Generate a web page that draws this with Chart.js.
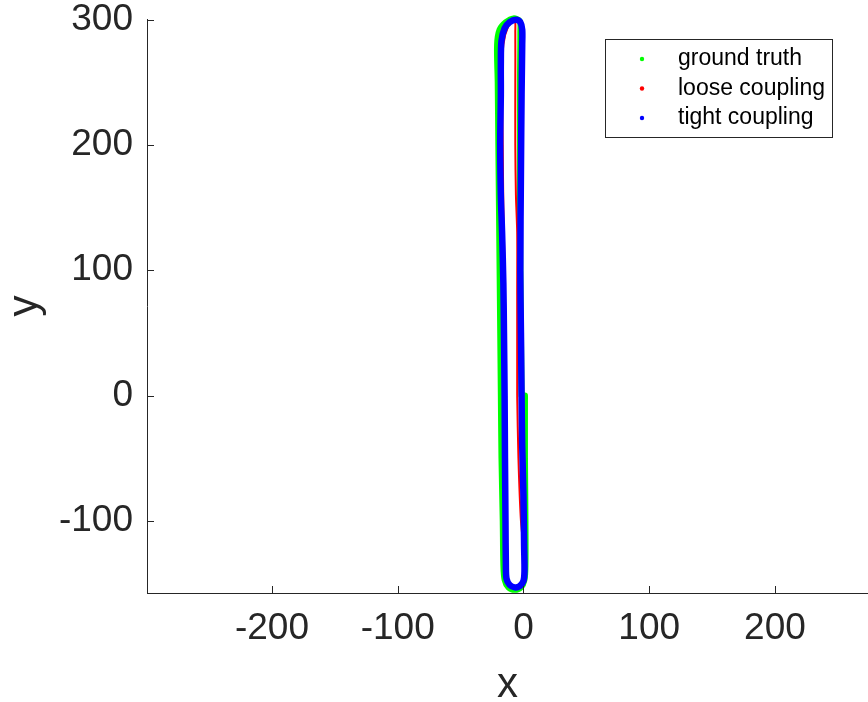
<!DOCTYPE html>
<html>
<head>
<meta charset="utf-8">
<script src="https://cdn.jsdelivr.net/npm/chart.js@4.4.1/dist/chart.umd.min.js"></script>
<style>
  html, body { margin: 0; padding: 0; background: #fff; }
  #wrap { width: 868px; height: 702px; position: relative; }
</style>
</head>
<body>
<div id="wrap"><canvas id="grafico"></canvas></div>
<script>
// Tick values
const xTicks = [-200, -100, 0, 100, 200];
const yTicks = [-100, 0, 100, 200, 300];

// ground truth
const gtX = [1.2, 1.2, 1.6, 1.6, 0.8, -2, -7, -12, -15, -16, -16.5, -17.5, -18, -18.5, -19, -19.5, -20, -20.5, -21, -19, -14, -8, -3, -2.5, -2.8, -2.8, -2.8, -2.5, -2, -1.5];
const gtY = [0, -50, -100, -135, -147, -153, -155, -153, -147, -135, -100, -50, 0, 50, 100, 150, 200, 250, 280, 292, 298, 301, 299, 290, 250, 200, 150, 100, 50, 0];

// loose coupling
const looseX = [-5, -4, -2, 1, 2, 0, -6, -11, -13.5, -13.5, -13.5, -14, -14.5, -15, -16, -16.5, -17, -16, -12, -7, -6.5, -6.5, -6.5, -6, -5, -5, -5, -5];
const looseY = [0, -50, -100, -130, -145, -151, -154, -152, -145, -100, -50, 0, 50, 100, 150, 200, 250, 280, 295, 300, 290, 250, 200, 160, 130, 80, 40, 0];

// tight coupling
const tightX = [-1.5, -1, 0, 0.5, 0.8, 0, -3, -7, -11, -13.5, -14, -14.3, -14.7, -15, -15.5, -16, -17, -18, -18.5, -18, -18, -17.5, -15, -11, -6, -2.5, -1, -1, -1.5, -2, -2.5, -2, -1.5];
const tightY = [0, -40, -80, -120, -140, -148, -152, -153, -151, -146, -135, -100, -50, 0, 50, 90, 130, 160, 200, 240, 265, 283, 293, 298, 300, 298, 292, 280, 240, 180, 100, 50, 0];

function puntos(xs, ys) {
    return xs.map((x, i) => ({ x: x, y: ys[i] }));
}

const colorEje = '#262626';
const fuente = "'Liberation Sans', Arial, Helvetica, sans-serif";

// Marcas de ticks hacia dentro y leyenda con borde (estilo MATLAB)
const pluginMatlab = {
    id: 'pluginMatlab',
    afterDraw(chart) {
        const ctx = chart.ctx;
        const area = chart.chartArea;
        const sx = chart.scales.x;
        const sy = chart.scales.y;
        ctx.save();
        ctx.strokeStyle = colorEje;
        ctx.lineWidth = 1;
        ctx.beginPath();
        sx.ticks.forEach(t => {
            const px = Math.round(sx.getPixelForValue(t.value)) + 0.5;
            ctx.moveTo(px, area.bottom);
            ctx.lineTo(px, area.bottom - 7);
        });
        sy.ticks.forEach(t => {
            const py = Math.round(sy.getPixelForValue(t.value)) + 0.5;
            ctx.moveTo(area.left, py);
            ctx.lineTo(area.left + 7, py);
        });
        ctx.stroke();

        // leyenda
        const lx = area.right - 263;
        const ly = area.top + 20;
        const lw = 227;
        const lh = 98;
        ctx.fillStyle = '#fff';
        ctx.fillRect(lx, ly, lw, lh);
        ctx.strokeStyle = colorEje;
        ctx.strokeRect(lx + 0.5, ly + 0.5, lw, lh);
        ctx.font = '23px ' + fuente;
        ctx.textBaseline = 'middle';
        ctx.textAlign = 'left';
        chart.data.datasets.forEach((ds, i) => {
            const cy = ly + 20 + i * 29.5;
            ctx.fillStyle = ds.borderColor;
            ctx.beginPath();
            ctx.arc(lx + 37, cy, 2.2, 0, Math.PI * 2);
            ctx.fill();
            ctx.fillStyle = '#000';
            ctx.fillText(ds.label, lx + 73, cy);
        });
        ctx.restore();
    }
};

const ctx = document.getElementById('grafico').getContext('2d');
new Chart(ctx, {
    type: 'scatter',
    data: {
        datasets: [
            { label: 'ground truth', data: puntos(gtX, gtY), borderColor: '#00ff00', backgroundColor: '#00ff00', borderWidth: 6, order: 3 },
            { label: 'loose coupling', data: puntos(looseX, looseY), borderColor: '#ff0000', backgroundColor: '#ff0000', borderWidth: 2, order: 2 },
            { label: 'tight coupling', data: puntos(tightX, tightY), borderColor: '#0000ff', backgroundColor: '#0000ff', borderWidth: 6.5, order: 1 }
        ]
    },
    options: {
        responsive: true,
        maintainAspectRatio: false,
        animation: false,
        datasets: {
            scatter: {
                showLine: true,
                pointRadius: 0,
                tension: 0.3,
                borderCapStyle: 'round',
                borderJoinStyle: 'round',
                clip: 8
            }
        },
        layout: { padding: { top: 19, right: 0, left: 0, bottom: 0 } },
        plugins: {
            legend: { display: false },
            tooltip: { enabled: false }
        },
        scales: {
            x: {
                type: 'linear',
                min: -299.4,
                max: 274,
                afterBuildTicks: (s) => { s.ticks = xTicks.map(v => ({ value: v })); },
                afterFit: (s) => { s.height = 109; s.paddingLeft = 0; s.paddingRight = 0; },
                grid: { display: false, drawTicks: false },
                border: { display: true, color: colorEje, width: 1 },
                ticks: {
                    color: colorEje,
                    padding: 17,
                    maxRotation: 0,
                    font: { family: fuente, size: 37, lineHeight: 1 }
                },
                title: {
                    display: true,
                    text: 'x',
                    color: colorEje,
                    font: { family: fuente, size: 42 },
                    padding: { top: 0, bottom: -9 }
                }
            },
            y: {
                type: 'linear',
                min: -157.5,
                max: 300.5,
                afterBuildTicks: (s) => { s.ticks = yTicks.map(v => ({ value: v })); },
                afterFit: (s) => { s.width = 147; s.paddingTop = 0; s.paddingBottom = 0; },
                grid: { display: false, drawTicks: false },
                border: { display: true, color: colorEje, width: 1 },
                ticks: {
                    color: colorEje,
                    padding: 14,
                    font: { family: fuente, size: 37, lineHeight: 1 }
                },
                title: {
                    display: true,
                    text: 'y',
                    color: colorEje,
                    font: { family: fuente, size: 42 },
                    padding: { top: 0, bottom: 0 }
                }
            }
        }
    },
    plugins: [pluginMatlab]
});
</script>
</body>
</html>
